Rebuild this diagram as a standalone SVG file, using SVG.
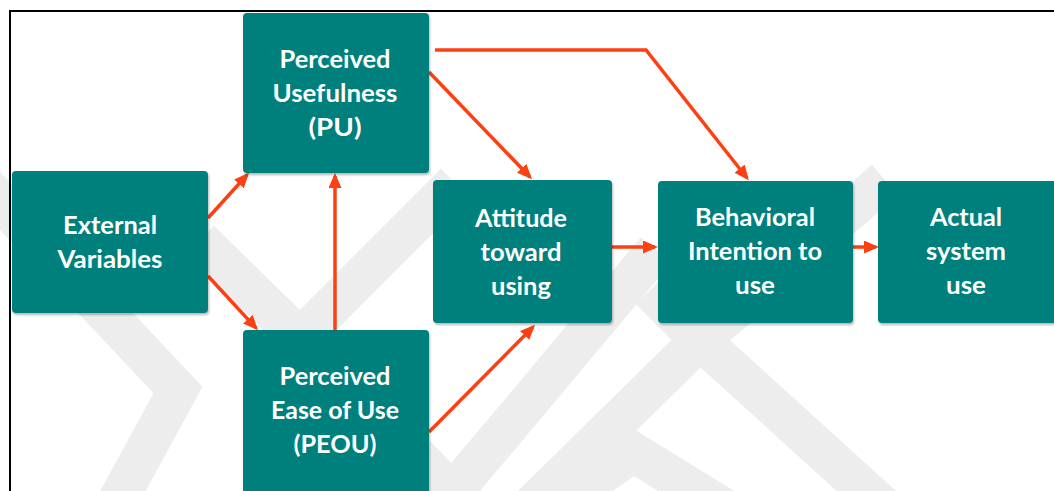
<svg xmlns="http://www.w3.org/2000/svg" width="1054" height="491" viewBox="0 0 1054 491">
  <defs>
    <style>
      .wm { fill: none; stroke: #EDEDED; stroke-width: 40; stroke-linejoin: miter; }
      .box { fill: #00807C; filter: url(#sh); }
      .lbl { font-family: Lato, "Open Sans", "Liberation Sans", sans-serif; font-weight: bold; font-size: 25px; fill: #FFFFFF; text-anchor: middle; }
      .con { fill: none; stroke: #FC4012; stroke-width: 3.5; stroke-linejoin: miter; marker-end: url(#ah); }
    </style>
    <filter id="sh" x="-5%" y="-5%" width="115%" height="115%">
      <feDropShadow dx="1" dy="2" stdDeviation="1.2" flood-color="#000000" flood-opacity="0.28"/>
    </filter>
    <marker id="ah" markerUnits="userSpaceOnUse" markerWidth="15" markerHeight="13" refX="12" refY="6.5" orient="auto">
      <path d="M0,0 L15,6.5 L0,13 z" fill="#FC4012"/>
    </marker>
  </defs>

  <rect x="0" y="0" width="1054" height="491" fill="#FFFFFF"/>

  <g id="watermark">
    <path class="wm" d="M -15 185 L 178 390 L 118 500"/>
    <path class="wm" d="M 200 240 L 300 338 L 455 183"/>
    <path class="wm" d="M 300 338 L 460 500"/>
    <path class="wm" d="M 438 510 L 656 250"/>
    <path class="wm" d="M 520 517 L 700 340 L 885 180"/>
    <path class="wm" d="M 650 290 L 700 340 L 895 517"/>
    <path class="wm" d="M 545 515 L 633 452 L 735 515"/>
  </g>

  <g id="frame">
    <line x1="10" y1="10" x2="10" y2="491" stroke="#000000" stroke-width="2"/>
    <line x1="9" y1="11" x2="1054" y2="11" stroke="#000000" stroke-width="2"/>
  </g>

  <g id="connectors">
    <path class="con" d="M 208 218 L 247 175"/>
    <path class="con" d="M 208 276 L 256 328"/>
    <path class="con" d="M 335 330 L 335 176"/>
    <path class="con" d="M 429 72 L 530 177"/>
    <path class="con" d="M 435 50 L 646 50 L 747 178"/>
    <path class="con" d="M 429 432 L 533 327"/>
    <path class="con" d="M 612 247 L 655 247"/>
    <path class="con" d="M 853 247 L 876 247"/>
  </g>

  <g id="node-external">
    <rect class="box" x="12" y="171" width="196" height="142" rx="4"/>
    <text class="lbl" x="110" y="234" textLength="94" lengthAdjust="spacingAndGlyphs">External</text>
    <text class="lbl" x="110" y="268" textLength="105" lengthAdjust="spacingAndGlyphs">Variables</text>
  </g>

  <g id="node-pu">
    <rect class="box" x="243" y="13" width="186" height="160" rx="4"/>
    <text class="lbl" x="335" y="68" textLength="111" lengthAdjust="spacingAndGlyphs">Perceived</text>
    <text class="lbl" x="335" y="102" textLength="125" lengthAdjust="spacingAndGlyphs">Usefulness</text>
    <text class="lbl" x="335" y="136" textLength="53" lengthAdjust="spacingAndGlyphs">(PU)</text>
  </g>

  <g id="node-peou">
    <rect class="box" x="243" y="330" width="186" height="164" rx="4"/>
    <text class="lbl" x="335" y="385" textLength="111" lengthAdjust="spacingAndGlyphs">Perceived</text>
    <text class="lbl" x="335" y="419" textLength="128" lengthAdjust="spacingAndGlyphs">Ease of Use</text>
    <text class="lbl" x="335" y="453" textLength="83" lengthAdjust="spacingAndGlyphs">(PEOU)</text>
  </g>

  <g id="node-attitude">
    <rect class="box" x="433" y="180" width="179" height="143" rx="4"/>
    <text class="lbl" x="521" y="227" textLength="92" lengthAdjust="spacingAndGlyphs">Attitude</text>
    <text class="lbl" x="521" y="261" textLength="81" lengthAdjust="spacingAndGlyphs">toward</text>
    <text class="lbl" x="521" y="295" textLength="60" lengthAdjust="spacingAndGlyphs">using</text>
  </g>

  <g id="node-bi">
    <rect class="box" x="658" y="181" width="195" height="142" rx="4"/>
    <text class="lbl" x="755" y="226" textLength="120" lengthAdjust="spacingAndGlyphs">Behavioral</text>
    <text class="lbl" x="755" y="260" textLength="134" lengthAdjust="spacingAndGlyphs">Intention to</text>
    <text class="lbl" x="755" y="294" textLength="40" lengthAdjust="spacingAndGlyphs">use</text>
  </g>

  <g id="node-actual">
    <rect class="box" x="878" y="181" width="182" height="142" rx="4"/>
    <text class="lbl" x="966" y="226" textLength="72" lengthAdjust="spacingAndGlyphs">Actual</text>
    <text class="lbl" x="966" y="260" textLength="80" lengthAdjust="spacingAndGlyphs">system</text>
    <text class="lbl" x="966" y="294" textLength="40" lengthAdjust="spacingAndGlyphs">use</text>
  </g>
</svg>
